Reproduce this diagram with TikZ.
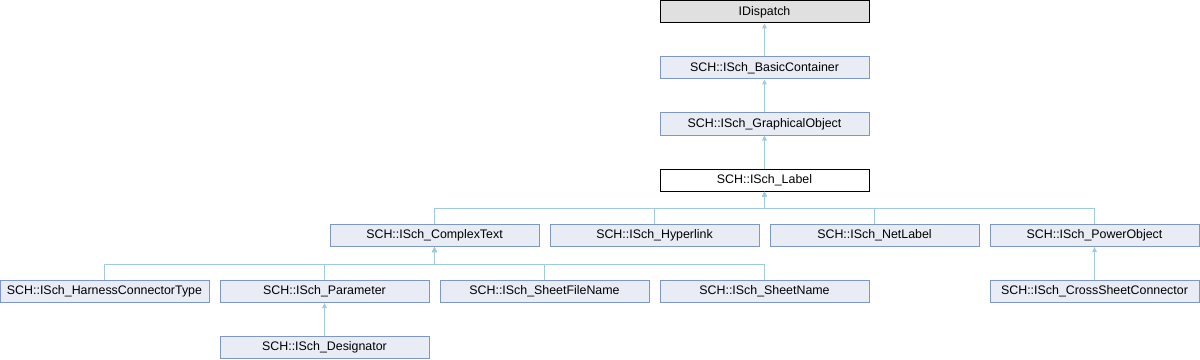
\documentclass[tikz,border=0pt]{standalone}
\usepackage{fontspec}
\setmainfont{Liberation Sans}
\usetikzlibrary{arrows.meta}
\definecolor{clsfill}{HTML}{E8ECF5}
\definecolor{clsline}{HTML}{7F97C8}
\definecolor{inhline}{HTML}{9ECAE4}

\begin{document}
\begin{tikzpicture}[x=0.75pt, y=-0.75pt,
	cls/.style={shape=rectangle, draw=clsline, fill=clsfill, line width=0.75pt, minimum width=156.75pt, minimum height=16.5pt, inner sep=0pt, font=\fontsize{9.3}{11}\selectfont},
	inh/.style={draw=inhline, line width=0.75pt, -{Triangle[length=3.75pt, width=3.5pt]}}]
	\useasboundingbox (0, 0) rectangle (1200, 360);
	% Classes:
	\node[cls, draw=black, fill={rgb,255:red,224;green,224;blue,224}] (idispatch) at (764.5, 12){IDispatch};
	\node[cls] (basiccont) at (764.5, 68){SCH::ISch\_BasicContainer};
	\node[cls] (graphobj) at (764.5, 124){SCH::ISch\_GraphicalObject};
	\node[cls, draw=black, fill=white] (label) at (764.5, 180){SCH::ISch\_Label};
	\node[cls] (complextext) at (434.5, 235.5){SCH::ISch\_ComplexText};
	\node[cls] (hyperlink) at (654.5, 235.5){SCH::ISch\_Hyperlink};
	\node[cls] (netlabel) at (874.5, 235.5){SCH::ISch\_NetLabel};
	\node[cls] (powerobj) at (1094.5, 235.5){SCH::ISch\_PowerObject};
	\node[cls] (harness) at (104.5, 291.5){SCH::ISch\_HarnessConnectorType};
	\node[cls] (parameter) at (324.5, 291.5){SCH::ISch\_Parameter};
	\node[cls] (sheetfile) at (544.5, 291.5){SCH::ISch\_SheetFileName};
	\node[cls] (sheetname) at (764.5, 291.5){SCH::ISch\_SheetName};
	\node[cls] (crosssheet) at (1094.5, 291.5){SCH::ISch\_CrossSheetConnector};
	\node[cls] (designator) at (324.5, 347.5){SCH::ISch\_Designator};
	% Inheritance:
	\draw[inh] (basiccont) -- (idispatch);
	\draw[inh] (graphobj) -- (basiccont);
	\draw[inh] (label) -- (graphobj);
	\draw[inh] (complextext.north) -- ++(0, -16) -| (label.south);
	\draw[inh] (hyperlink.north) -- ++(0, -16) -| (label.south);
	\draw[inh] (netlabel.north) -- ++(0, -16) -| (label.south);
	\draw[inh] (powerobj.north) -- ++(0, -16) -| (label.south);
	\draw[inh] (harness.north) -- ++(0, -16) -| (complextext.south);
	\draw[inh] (parameter.north) -- ++(0, -16) -| (complextext.south);
	\draw[inh] (sheetfile.north) -- ++(0, -16) -| (complextext.south);
	\draw[inh] (sheetname.north) -- ++(0, -16) -| (complextext.south);
	\draw[inh] (crosssheet) -- (powerobj);
	\draw[inh] (designator) -- (parameter);
\end{tikzpicture}
\end{document}
